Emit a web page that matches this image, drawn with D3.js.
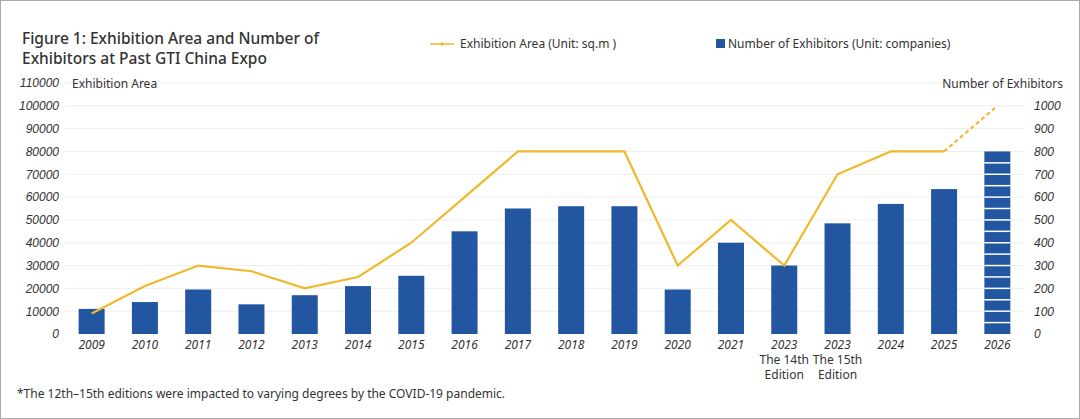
<!DOCTYPE html>
<html><head><meta charset="utf-8">
<script src="https://cdn.jsdelivr.net/npm/d3@7"></script>
<style>
body{margin:0;background:#fff;font-family:"Noto Sans",sans-serif;}
svg text{fill:#333;}
</style></head>
<body><svg id="chart"></svg>
<script>
const categories = ["2009","2010","2011","2012","2013","2014","2015","2016","2017","2018","2019","2020","2021","2023|The 14th|Edition","2023|The 15th|Edition","2024","2025","2026"];
const exhibitionArea = [9000,21000,30000,27500,20000,25000,40000,60000,80000,80000,80000,30000,50000,30000,70000,80000,80000,100000];
const exhibitors = [110,140,195,130,170,210,255,450,550,560,560,195,400,300,485,570,635,800];
const leftTicks = d3.range(0, 110001, 10000);
const rightTicks = d3.range(0, 1001, 100);

const W = 1080, H = 419;
const svg = d3.select("#chart").attr("width", W).attr("height", H);
svg.append("rect").attr("x",0.5).attr("y",0.5).attr("width",W-1).attr("height",H-1)
  .attr("fill","#fff").attr("stroke","#aaa");

const m = {left: 65, right: 1024, top: 83, bottom: 334};
const x = d3.scaleBand().domain(categories.map((d,i)=>i)).range([m.left, m.right])
  .paddingInner(0.5).paddingOuter(0.25);
const yL = d3.scaleLinear().domain([0,110000]).range([m.bottom, m.top]);
const yR = d3.scaleLinear().domain([0,1100]).range([m.bottom, m.top]);

// grid
svg.append("g").selectAll("line").data(leftTicks.slice(1)).join("line")
  .attr("x1", m.left).attr("x2", m.right).attr("y1", d=>yL(d)).attr("y2", d=>yL(d))
  .attr("stroke","#eee");

const axL = svg.append("g").attr("transform",`translate(${m.left},0)`)
  .call(d3.axisLeft(yL).tickValues(leftTicks).tickSize(0).tickPadding(6).tickFormat(d3.format("d")));
const axR = svg.append("g").attr("transform",`translate(${m.right},0)`)
  .call(d3.axisRight(yR).tickValues(rightTicks).tickSize(0).tickPadding(10).tickFormat(d3.format("d")));
[axL, axR].forEach(a => {
  a.select(".domain").remove();
  a.selectAll("text").attr("font-size",12).attr("font-style","italic").attr("fill","#333");
});

// bars
const bw = 26;
const bars = svg.append("g");
exhibitors.forEach((v,i) => {
  const cx = x(i) + x.bandwidth()/2;
  bars.append("rect").attr("x", cx-bw/2).attr("y", yR(v)).attr("width", bw)
    .attr("height", yR(0)-yR(v)).attr("fill","#2356a0");
});
// striped last bar
const li = exhibitors.length-1, lcx = x(li)+x.bandwidth()/2;
bars.append("g").selectAll("line").data(d3.range(50, exhibitors[li], 50)).join("line")
  .attr("x1", lcx-bw/2).attr("x2", lcx+bw/2).attr("y1", d=>yR(d)).attr("y2", d=>yR(d))
  .attr("stroke","#fff").attr("stroke-width",1.5);

// line
const line = d3.line().x((d,i)=>x(i)+x.bandwidth()/2).y(d=>yL(d));
const solid = exhibitionArea.slice(0, -1);
svg.append("path").attr("d", line(solid)).attr("fill","none").attr("stroke","#f0b92c").attr("stroke-width",2.2);
const last2 = exhibitionArea.slice(-2);
svg.append("path").attr("d", d3.line().x((d,i)=>x(li-1+i)+x.bandwidth()/2).y(d=>yL(d))(last2))
  .attr("fill","none").attr("stroke","#f0b92c").attr("stroke-width",2.2).attr("stroke-dasharray","4,3");

// x labels
const xl = svg.append("g");
categories.forEach((c,i) => {
  const t = xl.append("text").attr("x", x(i)+x.bandwidth()/2).attr("y", 349)
    .attr("text-anchor","middle").attr("font-size",12);
  c.split("|").forEach((s,k) => {
    t.append("tspan").attr("x", x(i)+x.bandwidth()/2).attr("dy", k?15:0)
      .attr("font-style", k?"normal":"italic").text(s);
  });
});

// titles
svg.append("text").attr("x",22).attr("y",44).attr("font-size",15.5).attr("font-weight",500).text("Figure 1: Exhibition Area and Number of");
svg.append("text").attr("x",22).attr("y",64).attr("font-size",15.5).attr("font-weight",500).text("Exhibitors at Past GTI China Expo");
svg.append("text").attr("x",72).attr("y",88).attr("font-size",12).text("Exhibition Area");
svg.append("text").attr("x",1063).attr("y",88).attr("text-anchor","end").attr("font-size",12).text("Number of Exhibitors");

// legend
svg.append("line").attr("x1",430).attr("x2",454).attr("y1",44).attr("y2",44).attr("stroke","#f0b92c").attr("stroke-width",1.5);
svg.append("circle").attr("cx",442).attr("cy",44).attr("r",1.8).attr("fill","#f0b92c");
svg.append("text").attr("x",460).attr("y",48).attr("font-size",12).text("Exhibition Area (Unit: sq.m )");
svg.append("rect").attr("x",716).attr("y",39).attr("width",9).attr("height",9).attr("fill","#2356a0");
svg.append("text").attr("x",728).attr("y",48).attr("font-size",12).text("Number of Exhibitors (Unit: companies)");

svg.append("text").attr("x",17).attr("y",398).attr("font-size",12).text("*The 12th–15th editions were impacted to varying degrees by the COVID-19 pandemic.");
</script></body></html>
